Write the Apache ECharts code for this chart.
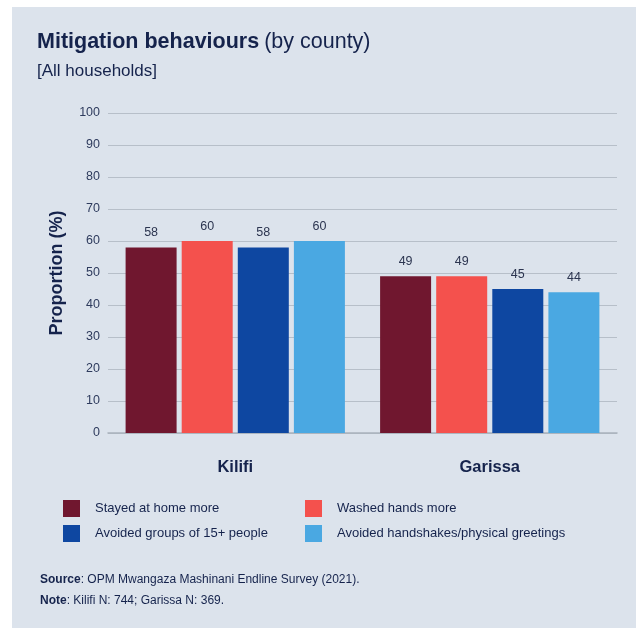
<!DOCTYPE html>
<html>
<head>
<meta charset="utf-8">
<script src="https://cdn.jsdelivr.net/npm/echarts@6/dist/echarts.min.js"></script>
<style>
  html, body { margin: 0; padding: 0; background: #ffffff; }
  #panel { position: absolute; left: 12px; top: 7px; width: 624px; height: 621px; background: #dce3ec; }
  #chart { position: absolute; left: 0; top: 0; width: 636px; height: 628px; }
</style>
</head>
<body>
<div id="panel"></div>
<div id="chart"></div>
<script>
const counties = ['Kilifi', 'Garissa'];
const seriesNames = [
  'Stayed at home more',
  'Washed hands more',
  'Avoided groups of 15+ people',
  'Avoided handshakes/physical greetings'
];
const stayedHome = [58, 49];
const washedHands = [60, 49];
const avoidedGroups = [58, 45];
const avoidedHandshakes = [60, 44];
const yTicks = [0, 10, 20, 30, 40, 50, 60, 70, 80, 90, 100];

const colors = ['#70172f', '#f4514d', '#0e47a1', '#4aa8e2'];
const values = [stayedHome, washedHands, avoidedGroups, avoidedHandshakes];
const ink = '#15234c';
const font = 'Liberation Sans, Arial, sans-serif';

const chart = echarts.init(document.getElementById('chart'), null, { renderer: 'canvas' });

const legendText = { fontFamily: font, fontSize: 13, color: ink, padding: [0, 0, 0, 10] };

chart.setOption({
  backgroundColor: 'transparent',
  textStyle: { fontFamily: font },
  title: [
    {
      left: 37, top: 31, padding: 0,
      text: '{b|Mitigation behaviours} {n|(by county)}',
      textStyle: {
        rich: {
          b: { fontFamily: font, fontSize: 21.5, fontWeight: 'bold', color: ink },
          n: { fontFamily: font, fontSize: 21.5, fontWeight: 'normal', color: ink }
        }
      }
    },
    {
      left: 37, top: 63, padding: 0,
      text: '[All households]',
      textStyle: { fontFamily: font, fontSize: 17, fontWeight: 'normal', color: ink }
    },
    {
      left: 40, top: 569, padding: 0,
      text: '{b|Source}: OPM Mwangaza Mashinani Endline Survey (2021).\n{b|Note}: Kilifi N: 744; Garissa N: 369.',
      textStyle: {
        fontFamily: font, fontSize: 12, fontWeight: 'normal', color: ink, lineHeight: 21,
        rich: { b: { fontFamily: font, fontSize: 12, fontWeight: 'bold', color: ink, lineHeight: 21 } }
      }
    }
  ],
  legend: [
    {
      data: [seriesNames[0], seriesNames[2]],
      orient: 'vertical', left: 63, top: 500, padding: 0,
      itemWidth: 17, itemHeight: 17, itemGap: 8,
      icon: 'rect',
      textStyle: legendText,
      selectedMode: false
    },
    {
      data: [seriesNames[1], seriesNames[3]],
      orient: 'vertical', left: 305, top: 500, padding: 0,
      itemWidth: 17, itemHeight: 17, itemGap: 8,
      icon: 'rect',
      textStyle: legendText,
      selectedMode: false
    }
  ],
  grid: { left: 108, right: 19, top: 113, bottom: 195, containLabel: false },
  xAxis: {
    type: 'category',
    data: counties,
    axisTick: { show: false },
    axisLine: { show: true, lineStyle: { color: '#a9b2bc', width: 1.5 } },
    axisLabel: { fontFamily: font, fontSize: 16.5, fontWeight: 'bold', color: ink, margin: 26 }
  },
  yAxis: {
    type: 'value',
    min: yTicks[0], max: yTicks[yTicks.length - 1], interval: 10,
    name: 'Proportion (%)',
    nameLocation: 'middle',
    nameGap: 42,
    nameTextStyle: { fontFamily: font, fontSize: 18, fontWeight: 'bold', color: ink },
    axisLine: { show: false },
    axisTick: { show: false },
    axisLabel: { fontFamily: font, fontSize: 12.5, color: '#2e3b5d', margin: 8 },
    splitLine: { lineStyle: { color: '#b7bfc9', width: 1.2 } }
  },
  series: seriesNames.map((name, i) => ({
    name,
    type: 'bar',
    data: values[i],
    barWidth: 51,
    barGap: '10%',
    itemStyle: { color: colors[i] },
    label: {
      show: true, position: 'top', distance: 8,
      fontFamily: font, fontSize: 12.5, color: '#2c3550'
    }
  }))
});
</script>
</body>
</html>
